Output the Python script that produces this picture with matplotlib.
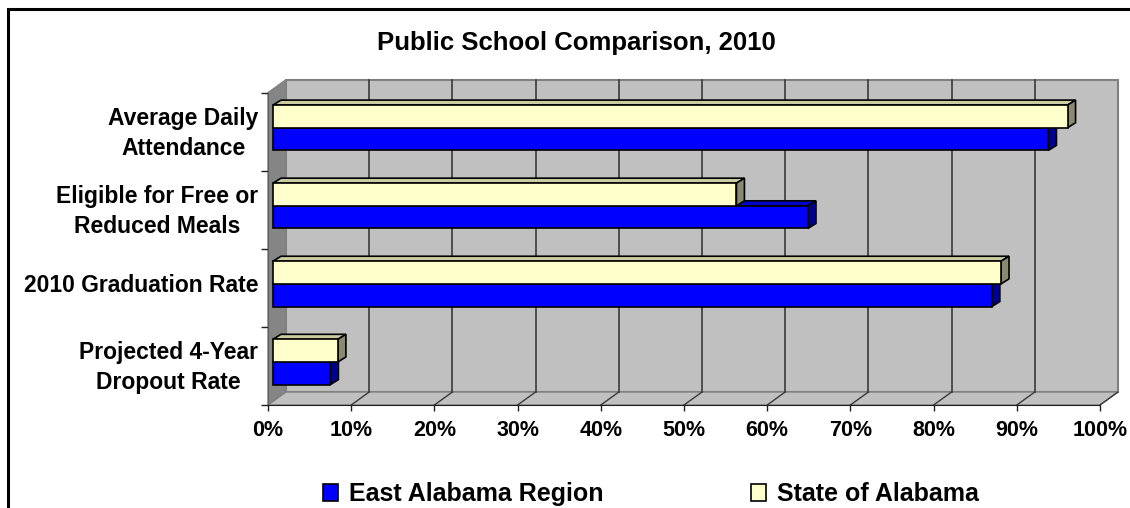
import matplotlib
matplotlib.use("Agg")
import matplotlib.pyplot as plt
from matplotlib.patches import Polygon, Rectangle
import numpy as np

# data (percent), top category first
categories = ["Average Daily\nAttendance", "Eligible for Free or\nReduced Meals",
              "2010 Graduation Rate", "Projected 4-Year\nDropout Rate"]
east_alabama = [93.2, 64.3, 86.4, 6.9]
state_alabama = [95.5, 55.7, 87.5, 7.8]
x_ticks = list(range(0, 101, 10))
x_tick_labels = [f"{t}%" for t in x_ticks]

plt.rcParams["font.family"] = ["Liberation Sans", "DejaVu Sans"]
plt.rcParams["font.weight"] = "bold"

W, H = 1130, 508
fig = plt.figure(figsize=(W / 100, H / 100), dpi=100)
left, right, top, bottom = 268, 1100, 92.7, 405
ax = fig.add_axes([left / W, 1 - bottom / H, (right - left) / W, (bottom - top) / H])
ax.set_xlim(0, 100)
ax.set_ylim(0, len(categories))
ax.set_facecolor("none")

# pixel -> data units
ux = 100 / (right - left)
uy = len(categories) / (bottom - top)

wall_dx, wall_dy = 18 * ux, 13 * uy
ncat = len(categories)

# back wall, left wall, floor
ax.add_patch(Polygon([(wall_dx, wall_dy), (100 + wall_dx, wall_dy),
                      (100 + wall_dx, ncat + wall_dy), (wall_dx, ncat + wall_dy)],
                     facecolor="#C0C0C0", edgecolor="#808080", lw=1.5, zorder=0, clip_on=False))
ax.add_patch(Polygon([(0, 0), (wall_dx, wall_dy), (wall_dx, ncat + wall_dy), (0, ncat)],
                     facecolor="#858585", edgecolor="#808080", lw=1, zorder=0.5, clip_on=False))
ax.add_patch(Polygon([(0, 0), (100, 0), (100 + wall_dx, wall_dy), (wall_dx, wall_dy)],
                     facecolor="#C0C0C0", edgecolor="#808080", lw=1, zorder=0.5, clip_on=False))

# gridlines on back wall and floor
for t in x_ticks[1:-1]:
    ax.plot([t + wall_dx, t + wall_dx], [wall_dy, ncat + wall_dy], color="#3A3A3A", lw=1.2,
            zorder=1, clip_on=False)
for t in x_ticks[1:]:
    ax.plot([t, t + wall_dx], [0, wall_dy], color="#3A3A3A", lw=1.0, zorder=1, clip_on=False)

# bars
bar_ox, bar_oy = 5 * ux, 4 * uy
dep_x, dep_y = 8 * ux, 5 * uy
h = 0.29
centers = np.arange(ncat)[::-1] + 0.5


def draw_3d(vals, y0, front, topc, side, label, z):
    bars = ax.barh(y0 + h / 2 + bar_oy, vals, height=h, left=bar_ox, color=front,
                   edgecolor="black", lw=1.2, zorder=z + 0.2, label=label)
    for v, yb in zip(vals, y0 + bar_oy):
        x1 = bar_ox + v
        ax.add_patch(Polygon([(bar_ox, yb + h), (x1, yb + h), (x1 + dep_x, yb + h + dep_y),
                              (bar_ox + dep_x, yb + h + dep_y)],
                             facecolor=topc, edgecolor="black", lw=1.2, zorder=z, clip_on=False))
        ax.add_patch(Polygon([(x1, yb), (x1 + dep_x, yb + dep_y), (x1 + dep_x, yb + h + dep_y),
                              (x1, yb + h)],
                             facecolor=side, edgecolor="black", lw=1.2, zorder=z, clip_on=False))
    return bars


b_east = draw_3d(east_alabama, centers - h, "#0000FF", "#0000C8", "#000090", "East Alabama Region", 3)
b_state = draw_3d(state_alabama, centers, "#FFFFCC", "#CCCCA3", "#8A8A70", "State of Alabama", 4)

# axes styling
for s in ["top", "right"]:
    ax.spines[s].set_visible(False)
ax.spines["bottom"].set_color("#202020")
ax.spines["left"].set_color("#606060")
ax.spines["bottom"].set_zorder(2)
ax.spines["left"].set_zorder(2)

ax.set_xticks(x_ticks)
ax.set_xticklabels(x_tick_labels, fontsize=15.5, fontweight="bold")
ax.tick_params(axis="x", direction="out", length=4, width=1, color="#202020", pad=7)

ax.set_yticks(range(ncat + 1))
ax.set_yticklabels([])
ax.tick_params(axis="y", which="major", direction="out", length=5, width=1, color="#202020")
ax.set_yticks(centers + 0.06, minor=True)
ax.set_yticklabels(categories, minor=True, fontsize=16.5, fontweight="bold",
                   multialignment="center", linespacing=1.42)
ax.tick_params(axis="y", which="minor", length=0, pad=7)

fig.text(0.5097, 1 - 50 / H, "Public School Comparison, 2010", ha="center", va="baseline",
         fontsize=18.5, fontweight="bold")

fig.legend(handles=[b_east, b_state], loc="center", bbox_to_anchor=(0.576, 1 - 494 / H),
           ncol=2, frameon=False, fontsize=18, handlelength=0.6, handleheight=0.7,
           handletextpad=0.45, columnspacing=5.9, borderpad=0)

# outer frame (only left and top edges visible in the crop)
fig.add_artist(Rectangle((8 / W, -0.1), 1.2, 1.1 - 9 / H, transform=fig.transFigure,
                         fill=False, edgecolor="black", lw=2.2))

fig.savefig("out.png", dpi=100)
